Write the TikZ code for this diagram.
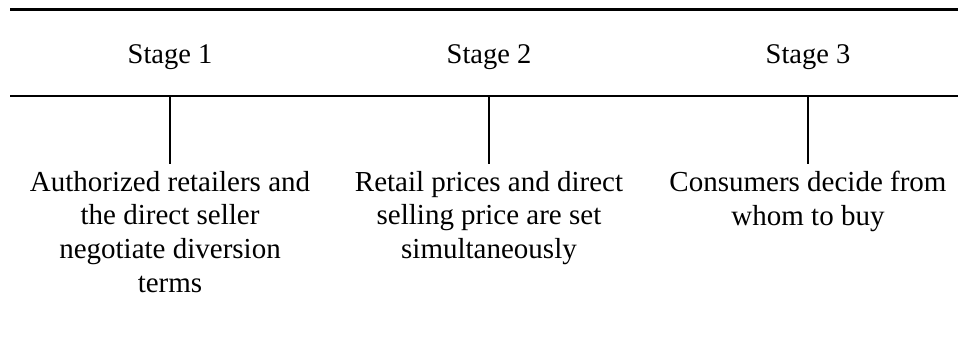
\documentclass[tikz,border=0pt]{standalone}
\usepackage{fontspec}
\setmainfont{Liberation Serif}
\begin{document}
\begin{tikzpicture}[x=1pt,y=-1pt,
  stagelabel/.style={anchor=base,inner sep=0pt,font=\fontsize{28.5}{34}\selectfont},
  desc/.style={anchor=north,inner xsep=0pt,inner ysep=7pt,align=center,font=\fontsize{29}{33.6}\selectfont},
  thickrule/.style={line width=3.6pt},
  midrule/.style={line width=2pt},
  tick/.style={line width=1.9pt}]
\useasboundingbox (0,0) rectangle (958,340);
\coordinate (tl) at (10,9.3);
\coordinate (tr) at (958,9.3);
\coordinate (ml) at (10,95.5);
\coordinate (mr) at (958,95.5);
\draw[thickrule] (tl) -- (tr);
\draw[midrule] (ml) -- (mr);
\node[stagelabel] (s1) at (170,63) {Stage 1};
\node[stagelabel] (s2) at (489,63) {Stage 2};
\node[stagelabel] (s3) at (808,63) {Stage 3};
\coordinate (c1) at (170,95.5);
\coordinate (c2) at (489,95.5);
\coordinate (c3) at (808,95.5);
\node[desc] (t1) at (170,164) {Authorized retailers and\\the direct seller\\negotiate diversion\\terms};
\node[desc] (t2) at (489,164) {Retail prices and direct\\selling price are set\\simultaneously};
\node[desc] (t3) at (808,164) {Consumers decide from\\whom to buy};
\draw[tick] (c1) -- (t1.north);
\draw[tick] (c2) -- (t2.north);
\draw[tick] (c3) -- (t3.north);
\end{tikzpicture}
\end{document}
